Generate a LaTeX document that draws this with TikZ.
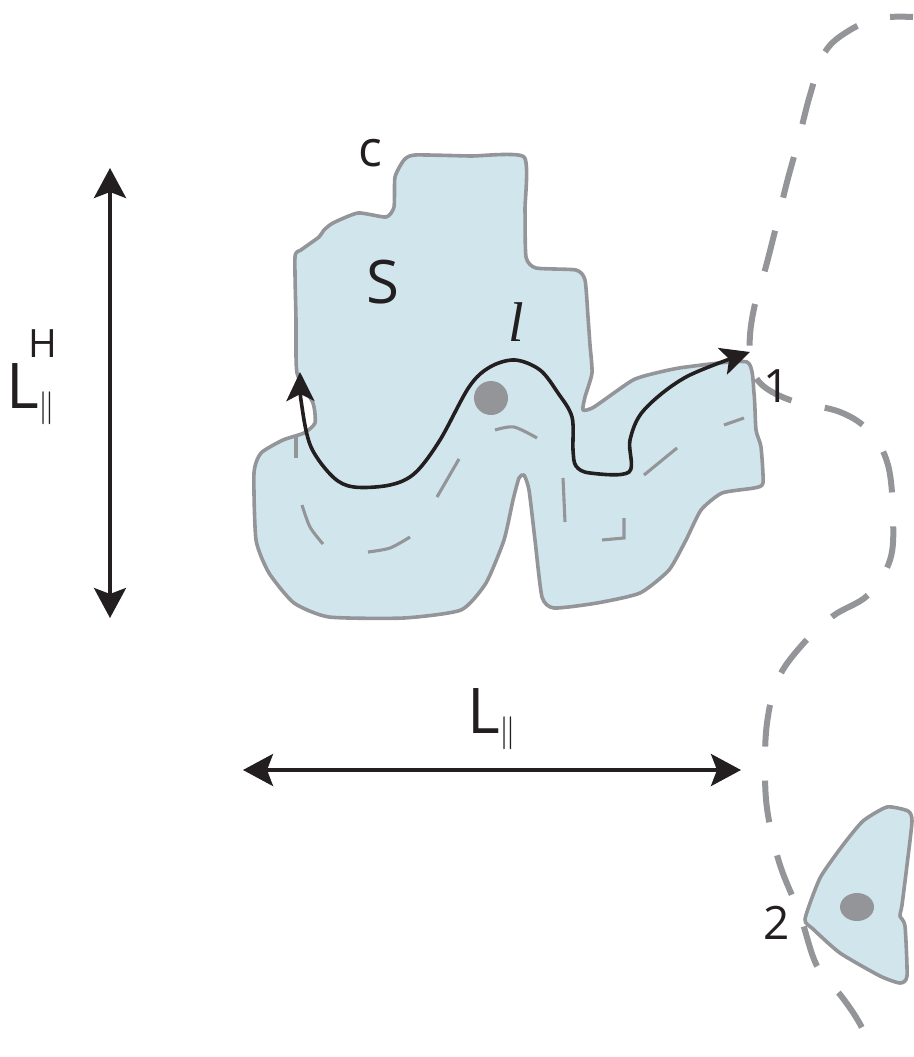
\documentclass[tikz,border=0pt]{standalone}
\usepackage{graphicx}
\usepackage{fontspec}
\setmainfont{Open Sans}
\newfontfamily\lserif{Liberation Serif}
\usetikzlibrary{arrows.meta}
\definecolor{cellfill}{HTML}{D1E6EC}
\definecolor{edgegray}{HTML}{939598}
\definecolor{ink}{HTML}{231F20}
\tikzset{
  cell/.style={fill=cellfill, draw=edgegray, line width=3.6pt, line join=round},
  innerdash/.style={draw=edgegray, line width=3.1pt},
  outerdash/.style={draw=edgegray, line width=6pt, dash pattern=on 42pt off 34pt, dash phase=19pt},
  dimarrow/.style={line width=3.8pt, draw=ink, {Stealth[length=30pt,width=32pt,inset=6pt]}-{Stealth[length=30pt,width=32pt,inset=6pt]}},
  patharrow/.style={line width=3.6pt, draw=ink, {Stealth[length=29pt,width=28pt,inset=7pt]}-{Stealth[length=29pt,width=28pt,inset=7pt]}},
  lbl/.style={inner sep=0pt, text=ink},
  dotmark/.style={fill=edgegray}
}
\newcommand{\parsub}{\raisebox{-8pt}{\scalebox{3.3}{\normalsize$\parallel$}}}
\begin{document}
\begin{tikzpicture}[x=1pt,y=-1pt]
\useasboundingbox (0,0) rectangle (913,1057);

% main cell
\draw[cell] plot[smooth cycle, tension=0.35] coordinates {
(404,160) (415,155) (470,156) (524,157) (525,210) (526,257) (536,268) (576,270) (585,280) (588,317) (590,345) (592,373) (585,397) (583,410) (594,407) (633,380) (660,372) (686,367) (747,362) (754,393) (756,430) (761,447) (763,483) (754,488) (722,493) (701,510) (686,540) (669,570) (640,593) (597,603) (554,608) (542,597) (535,540) (529,490) (524,475) (519,478) (513,500) (504,540) (486,583) (461,610) (404,618) (329,617) (294,603) (269,573) (256,540) (254,473) (261,453) (283,440) (304,433) (315,423) (313,403) (297,373) (296,320) (295,257) (301,250) (319,237) (324,230) (333,223) (358,213) (386,217) (394,207) (395,177)};

% inner dashed centre line
\draw[innerdash] (296,437) -- (296,458);
\draw[innerdash] plot[smooth] coordinates {(302,505) (310,527) (323,544)};
\draw[innerdash] plot[smooth] coordinates {(368,552) (390,548) (410,537)};
\draw[innerdash] (437,497) -- (459,459);
\draw[innerdash] plot[smooth] coordinates {(495,430) (514,427) (537,438)};
\draw[innerdash] (563,478) -- (565,522);
\draw[innerdash] (602,540) -- (624,538) -- (624,518);
\draw[innerdash] (644,475) -- (677,448);
\draw[innerdash] (724,425) -- (744,418);

% nucleus
\fill[dotmark] (491,398) circle (17);

% second cell
\draw[cell] plot[smooth cycle, tension=0.35] coordinates {
(805,919) (820,878) (843,845) (863,821) (887,807) (908,811) (912,821) (907,865) (902,905) (900,916) (905,926) (907,976) (900,983) (880,976) (840,953) (813,929)};
\fill[dotmark] (857,907) ellipse [x radius=17, y radius=14];

% outer dashed boundary
\draw[outerdash] plot[smooth, tension=0.6] coordinates {
(913,17) (880,18) (850,30) (825,52) (810,95) (798,142) (787,182) (777,223) (765,270) (755,304) (750,335) (751,360) (760,383) (790,400) (840,412) (870,432) (888,465) (893,517) (890,560) (868,595) (833,616) (802,645) (778,679) (767,723) (765,774) (768,815) (780,865) (800,915) (817,966) (842,997) (860,1024) (875,1057)};

% path l
\coordinate (lstart) at (300,372);
\coordinate (lend) at (750,352);
\draw[patharrow] plot[smooth, tension=0.55] coordinates {
(lstart) (302,407) (311,447) (333,477) (354,487) (390,485) (415,473) (440,440) (469,387) (490,367) (515,360) (540,370) (558,393) (572,417) (573,450) (576,466) (590,473) (629,472) (630,440) (644,410) (686,377) (lend)};

% dimension arrows
\coordinate (vtop) at (110,168);
\coordinate (vbot) at (110,618);
\draw[dimarrow] (vtop) -- (vbot);
\coordinate (hleft) at (243,770);
\coordinate (hright) at (741,770);
\draw[dimarrow] (hleft) -- (hright);

% labels
\node[lbl] (labc) at (370,153) {\fontsize{50}{50}\selectfont c};
\node[lbl] (labS) at (383,282) {\fontsize{60}{60}\selectfont S};
\node[lbl] (labl) at (516,322) {\lserif\itshape\fontsize{56}{56}\selectfont l};
\node[lbl] (lab1) at (777,386) {\fontsize{46}{46}\selectfont 1};
\node[lbl] (lab2) at (777,923) {\fontsize{46}{46}\selectfont 2};
\node[lbl, anchor=base west] (labLH) at (6,408) {\fontsize{63}{63}\selectfont L\rlap{\kern-10pt\raisebox{51pt}{\fontsize{39}{39}\selectfont H}}\parsub};
\node[lbl, anchor=base west] (labL) at (467,733) {\fontsize{63}{63}\selectfont L\parsub};
\end{tikzpicture}
\end{document}
